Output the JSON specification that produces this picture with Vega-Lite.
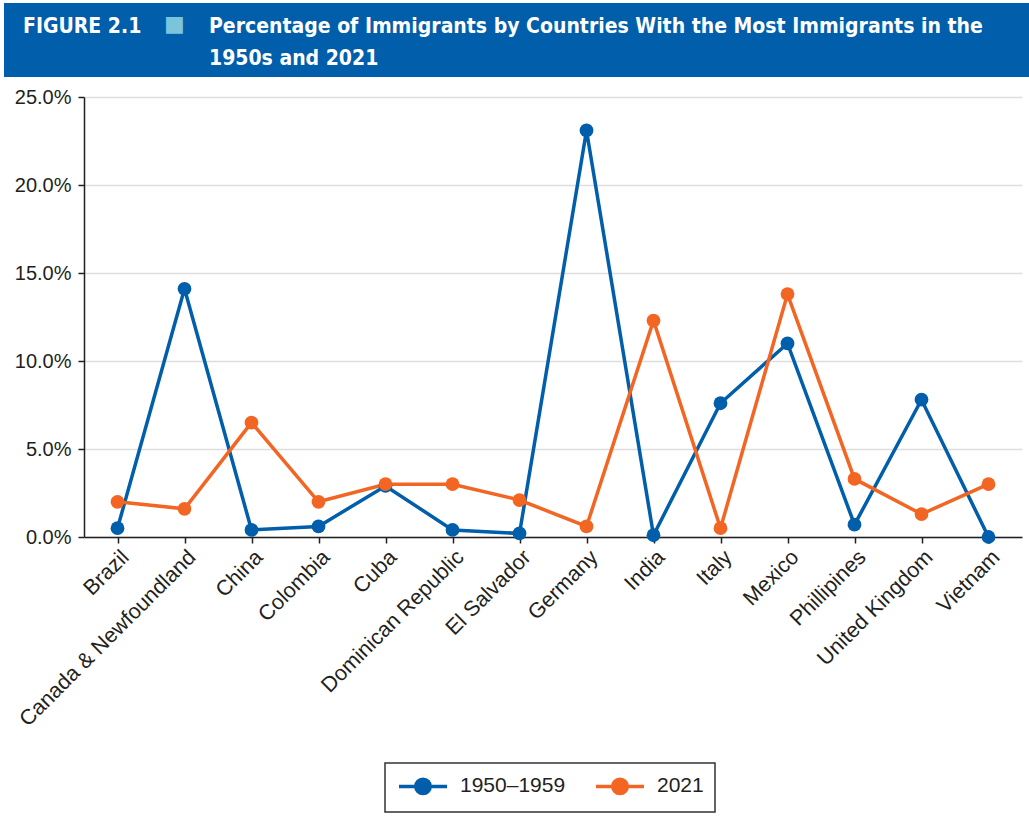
{
  "$schema": "https://vega.github.io/schema/vega-lite/v6.json",
  "padding": {"left": 4, "top": 3, "right": 0, "bottom": 0},
  "background": "white",
  "spacing": 10,
  "config": {
    "font": "Liberation Sans",
    "view": {"stroke": null}
  },
  "resolve": {"scale": {"color": "independent"}, "legend": {"color": "independent"}},
  "vconcat": [
    {
      "spacing": 0,
      "hconcat": [
        {
          "width": 158, "height": 74,
          "view": {"fill": "#005EAA", "stroke": null},
          "data": {"values": []},
          "mark": "text",
          "encoding": {},
          "title": {"text": "FIGURE 2.1", "anchor": "start", "orient": "top", "frame": "group", "offset": -34, "dx": 19, "color": "white", "font": "DejaVu Sans Condensed", "fontSize": 21, "fontWeight": "bold"}
        },
        {
          "width": 43, "height": 74,
          "view": {"fill": "#005EAA", "stroke": null},
          "data": {"values": []},
          "mark": "text",
          "encoding": {},
          "title": {"text": "■", "anchor": "start", "orient": "top", "frame": "group", "offset": -33, "dx": 2, "color": "#7AC4DC", "font": "DejaVu Sans", "fontSize": 22}
        },
        {
          "width": 824, "height": 74,
          "view": {"fill": "#005EAA", "stroke": null},
          "data": {"values": []},
          "mark": "text",
          "encoding": {},
          "title": {"text": ["Percentage of Immigrants by Countries With the Most Immigrants in the", "1950s and 2021"], "anchor": "start", "orient": "top", "frame": "group", "offset": -66, "dx": 4, "lineHeight": 32, "color": "white", "font": "DejaVu Sans Condensed", "fontSize": 21, "fontWeight": "bold"}
        }
      ]
    },
    {
      "spacing": 0,
      "resolve": {"scale": {"color": "independent"}, "legend": {"color": "independent"}},
      "hconcat": [
        {
          "width": 10, "height": 1,
          "data": {"values": []},
          "mark": "text",
          "encoding": {}
        },
        {
          "width": 938,
          "height": 440,
          "data": {
            "values": [
              {"country": "Brazil", "period": "1950–1959", "pct": 0.5},
              {"country": "Canada & Newfoundland", "period": "1950–1959", "pct": 14.1},
              {"country": "China", "period": "1950–1959", "pct": 0.4},
              {"country": "Colombia", "period": "1950–1959", "pct": 0.6},
              {"country": "Cuba", "period": "1950–1959", "pct": 2.9},
              {"country": "Dominican Republic", "period": "1950–1959", "pct": 0.4},
              {"country": "El Salvador", "period": "1950–1959", "pct": 0.2},
              {"country": "Germany", "period": "1950–1959", "pct": 23.1},
              {"country": "India", "period": "1950–1959", "pct": 0.1},
              {"country": "Italy", "period": "1950–1959", "pct": 7.6},
              {"country": "Mexico", "period": "1950–1959", "pct": 11.0},
              {"country": "Phillipines", "period": "1950–1959", "pct": 0.7},
              {"country": "United Kingdom", "period": "1950–1959", "pct": 7.8},
              {"country": "Vietnam", "period": "1950–1959", "pct": 0.0},
              {"country": "Brazil", "period": "2021", "pct": 2.0},
              {"country": "Canada & Newfoundland", "period": "2021", "pct": 1.6},
              {"country": "China", "period": "2021", "pct": 6.5},
              {"country": "Colombia", "period": "2021", "pct": 2.0},
              {"country": "Cuba", "period": "2021", "pct": 3.0},
              {"country": "Dominican Republic", "period": "2021", "pct": 3.0},
              {"country": "El Salvador", "period": "2021", "pct": 2.1},
              {"country": "Germany", "period": "2021", "pct": 0.6},
              {"country": "India", "period": "2021", "pct": 12.3},
              {"country": "Italy", "period": "2021", "pct": 0.5},
              {"country": "Mexico", "period": "2021", "pct": 13.8},
              {"country": "Phillipines", "period": "2021", "pct": 3.3},
              {"country": "United Kingdom", "period": "2021", "pct": 1.3},
              {"country": "Vietnam", "period": "2021", "pct": 3.0}
            ]
          },
          "mark": {"type": "line", "strokeWidth": 3.5, "point": {"filled": true, "size": 190, "opacity": 1}},
          "encoding": {
            "x": {
              "field": "country", "type": "nominal", "sort": null,
              "scale": {"type": "point", "padding": 0.5},
              "axis": {"title": null, "labelAngle": -45, "labelFontSize": 21.5, "labelLimit": 400, "labelColor": "#231F20", "domainColor": "#231F20", "domainWidth": 1.5, "tickColor": "#231F20", "tickWidth": 1.5, "tickSize": 6, "labelPadding": 3, "grid": false}
            },
            "y": {
              "field": "pct", "type": "quantitative",
              "scale": {"domain": [0, 25], "nice": false},
              "axis": {"title": null, "values": [0, 5, 10, 15, 20, 25], "labelExpr": "format(datum.value, '.1f') + '%'", "labelFontSize": 20, "labelColor": "#231F20", "domainColor": "#231F20", "domainWidth": 1.5, "tickColor": "#231F20", "tickWidth": 1.5, "tickSize": 6, "labelPadding": 7, "gridColor": "#DDDDDD", "gridWidth": 1.5}
            },
            "color": {
              "field": "period", "type": "nominal",
              "scale": {"domain": ["1950–1959", "2021"], "range": ["#005EAA", "#F26522"]},
              "legend": {
                "title": null, "orient": "none", "legendX": 301, "legendY": 666, "direction": "horizontal",
                "strokeColor": "#333333", "padding": 11,
                "labelFontSize": 21, "labelColor": "#231F20", "labelOffset": 25, "columnPadding": 23,
                "symbolType": "M-2.4,0H2.4M0.72,0A0.72,0.72,0,1,1,-0.72,0A0.72,0.72,0,1,1,0.72,0Z",
                "symbolSize": 400, "symbolStrokeWidth": 3.5, "symbolOffset": 15,
                "encode": {"legend": {"update": {"strokeWidth": {"value": 1.5}}}, "symbols": {"update": {"fill": {"scale": "color", "field": "value"}}}}
              }
            }
          }
        }
      ]
    }
  ]
}
